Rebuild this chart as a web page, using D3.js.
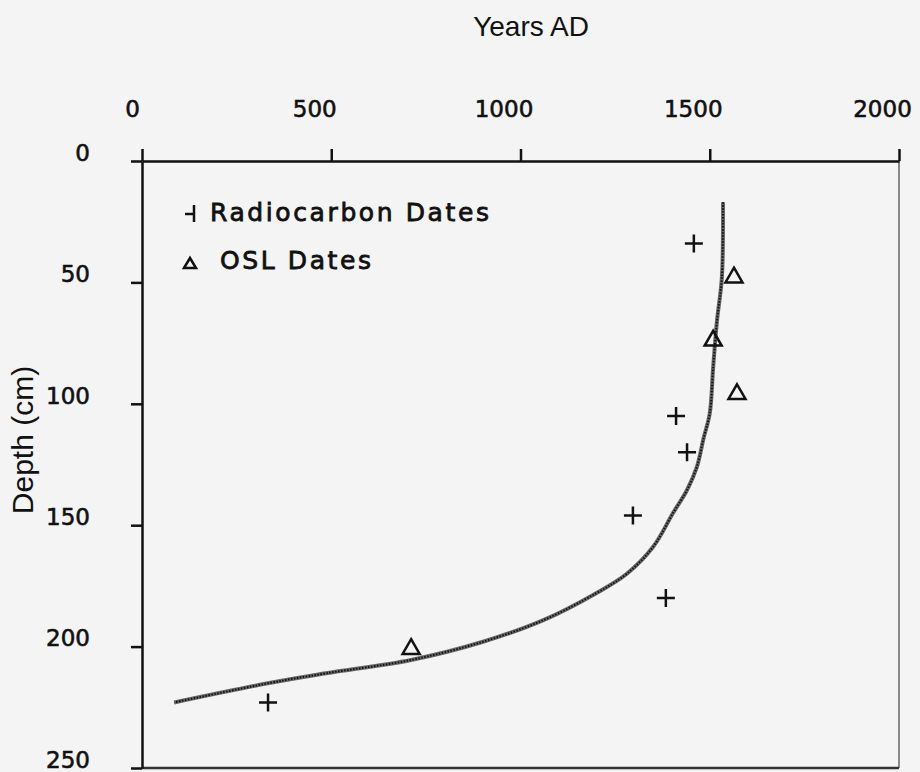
<!DOCTYPE html>
<html>
<head>
<meta charset="utf-8">
<script src="https://cdn.jsdelivr.net/npm/d3@7"></script>
<style>
  body { margin: 0; background: #f4f4f4; }
  #chart { width: 920px; height: 772px; }
  .axis text { font-family: "DejaVu Sans", sans-serif; font-size: 23px; fill: #111; stroke: #111; stroke-width: 0.6; }
  .axis path, .axis line { stroke: #111; stroke-width: 2.5; }
  .axis-label { font-family: "Liberation Sans", Arial, sans-serif; fill: #111; }
  .legend text { font-family: "DejaVu Sans", sans-serif; font-size: 25px; letter-spacing: 2.6px; fill: #111; stroke: #111; stroke-width: 0.8; }
</style>
</head>
<body>
<div id="chart"></div>
<script>
var width = 920, height = 772
const margin = {top: 161, left: 142, right: 21, bottom: 4}

// tick values
var yearTicks = [0, 500, 1000, 1500, 2000]
var depthTicks = [0, 50, 100, 150, 200, 250]

// radiocarbon dates: [year AD, depth cm]
var radiocarbon = [[1458, 34], [1411, 105], [1440, 120], [1297, 146], [1384, 180], [333, 223]]
// OSL dates: [year AD, depth cm]
var osl = [[1564, 48], [1509, 74], [1572, 96], [711, 201]]
// age-depth model curve
var curveYears  = [1535, 1532, 1519, 1509, 1500, 1484, 1466, 1440, 1403, 1350, 1281, 1200, 1062, 901, 711, 486, 336, 85]
var curveDepths = [17, 48, 66, 85, 104, 114, 126, 135.5, 145, 159, 170, 178, 189, 198, 205.5, 211, 215, 223]

var xScale = d3.scaleLinear()
    .domain([0, 2000])
    .range([margin.left, width - margin.right])
var yScale = d3.scaleLinear()
    .domain([0, 250])
    .range([margin.top, height - margin.bottom])

var svg = d3.select("#chart")
    .append("svg")
    .attr("width", width)
    .attr("height", height)
    .attr("display", "block")

// frame: right side and bottom
svg.append("line")
    .attr("x1", xScale(2000)).attr("x2", xScale(2000))
    .attr("y1", yScale(0)).attr("y2", yScale(250))
    .attr("stroke", "#666").attr("stroke-width", 1.5)
svg.append("line")
    .attr("x1", xScale(0)).attr("x2", xScale(2000))
    .attr("y1", yScale(250)).attr("y2", yScale(250))
    .attr("stroke", "#333").attr("stroke-width", 2.5)

// top axis - years
var xAxis = d3.axisTop(xScale)
    .tickValues(yearTicks)
    .tickFormat(d3.format("d"))
    .tickSize(12)
    .tickPadding(32)
    .tickSizeOuter(0)
svg.append("g")
    .attr("class", "axis")
    .attr("transform", "translate(0," + yScale(0) + ")")
    .call(xAxis)
    .selectAll("text")
    .attr("dx", function(d) { return d == 0 ? -10 : -17 })

svg.append("text")
    .attr("class", "axis-label")
    .attr("x", 531)
    .attr("y", 36)
    .style("font-size", "28px")
    .style("text-anchor", "middle")
    .text("Years AD")

// left axis - depth
var yAxis = d3.axisLeft(yScale)
    .tickValues(depthTicks)
    .tickSize(11)
    .tickPadding(41)
    .tickSizeOuter(0)
svg.append("g")
    .attr("class", "axis")
    .attr("transform", "translate(" + xScale(0) + ",0)")
    .call(yAxis)
    .selectAll("text")
    .attr("dy", "0.36em")
    .attr("y", -9)

svg.append("text")
    .attr("class", "axis-label")
    .attr("transform", "translate(33,440)rotate(-90)")
    .style("font-size", "30px")
    .style("text-anchor", "middle")
    .text("Depth (cm)")

// model curve
var curveData = curveYears.map(function(y, i) { return [y, curveDepths[i]] })
var line = d3.line()
    .x(function(d) { return xScale(d[0]) })
    .y(function(d) { return yScale(d[1]) })
    .curve(d3.curveCatmullRom.alpha(0.5))
svg.append("path")
    .datum(curveData)
    .attr("fill", "none")
    .attr("stroke", "#666")
    .attr("stroke-width", 4)
    .attr("d", line)
svg.append("path")
    .datum(curveData)
    .attr("fill", "none")
    .attr("stroke", "#111")
    .attr("stroke-width", 2)
    .attr("stroke-dasharray", "1.5,1.5")
    .attr("d", line)

// markers
function plusPath(s) { return "M" + (-s) + ",0H" + s + "M0," + (-s) + "V" + s }
svg.selectAll(".rc")
    .data(radiocarbon)
    .enter()
    .append("path")
    .attr("class", "rc")
    .attr("transform", function(d) { return "translate(" + xScale(d[0]) + "," + yScale(d[1]) + ")" })
    .attr("d", plusPath(9))
    .attr("stroke", "#111")
    .attr("stroke-width", 2.5)
    .attr("fill", "none")

svg.selectAll(".osl")
    .data(osl)
    .enter()
    .append("path")
    .attr("class", "osl")
    .attr("transform", function(d) { return "translate(" + xScale(d[0]) + "," + yScale(d[1]) + ")" })
    .attr("d", d3.symbol().type(d3.symbolTriangle).size(125))
    .attr("stroke", "#111")
    .attr("stroke-width", 2.5)
    .attr("fill", "none")

// legend
var legend = svg.append("g").attr("class", "legend")
legend.append("path")
    .attr("transform", "translate(194,213)")
    .attr("d", "M-9,1H0M0,-8V9")
    .attr("stroke", "#111").attr("stroke-width", 2.5).attr("fill", "none")
legend.append("text").attr("x", 210).attr("y", 221).text("Radiocarbon Dates")
legend.append("path")
    .attr("transform", "translate(190,263)")
    .attr("d", "M-6,5L0,-5L6,5Z")
    .attr("stroke", "#111").attr("stroke-width", 2.5).attr("fill", "none")
legend.append("text").attr("x", 220).attr("y", 269).text("OSL Dates")
</script>
</body>
</html>
